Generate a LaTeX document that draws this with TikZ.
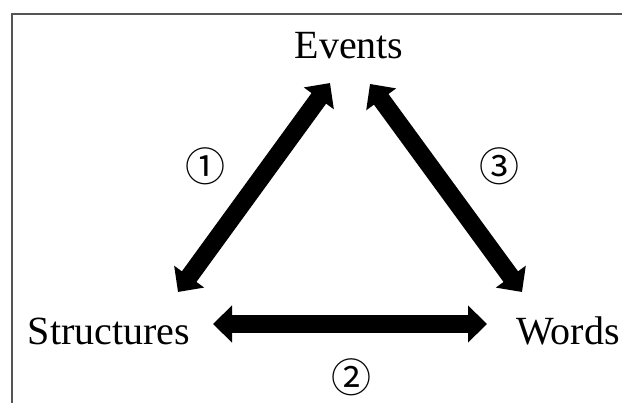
\documentclass[tikz,border=0pt]{standalone}
\usepackage{fontspec}
\setmainfont{Liberation Serif}
\newfontfamily\circfont{Noto Sans CJK JP}
\usepackage{tikz}
\usetikzlibrary{arrows.meta, positioning}
\definecolor{frame}{RGB}{85,85,85}

\begin{document}
\begin{tikzpicture}[
    x=1pt, y=-1pt,
    word/.style={font=\fontsize{40}{48}\selectfont, anchor=base, inner sep=0pt},
    num/.style={font=\circfont\fontsize{40}{48}\selectfont, inner sep=0pt},
    bigarrow/.style={{Triangle[length=19pt,width=36pt]}-{Triangle[length=19pt,width=36pt]}, line width=18pt}
]
\useasboundingbox (0,0) rectangle (622,403);

% Frame
\draw[frame, line width=2pt] (12,403) |- (622,14);

% Concepts
\node[word] (events) at (349,59) {Events};
\node[word] (structures) at (109,345) {Structures};
\node[word] (words) at (568,345) {Words};

% Arrow ends
\coordinate (evl) at (330,83);
\coordinate (evr) at (370,84);
\coordinate (stu) at (178,292);
\coordinate (str) at (213,324);
\coordinate (wou) at (522,292);
\coordinate (wol) at (487,324);

% Arrows
\draw[bigarrow] (stu) -- (evl);
\draw[bigarrow] (str) -- (wol);
\draw[bigarrow] (evr) -- (wou);

% Labels
\node[num] (one) at (205,166) {①};
\node[num] (two) at (351,377) {②};
\node[num] (three) at (499,166) {③};

\end{tikzpicture}
\end{document}
